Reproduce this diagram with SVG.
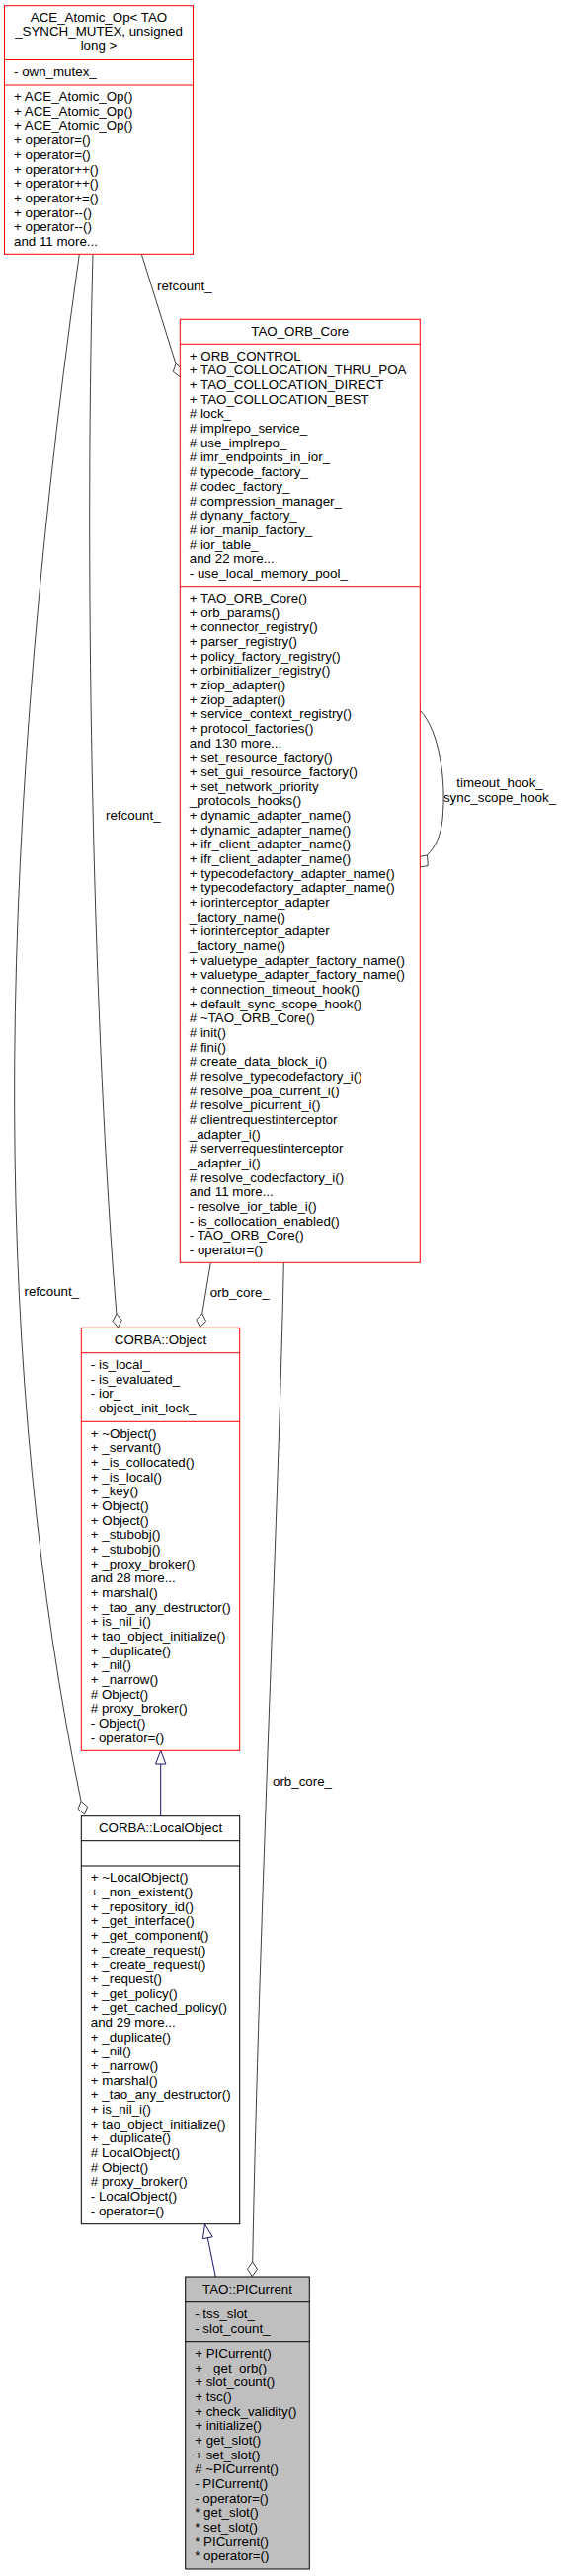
<svg xmlns="http://www.w3.org/2000/svg" width="568" height="2608" viewBox="0 0 568 2608">
<style>
text{font-family:"Liberation Sans",Arial,sans-serif;font-size:13.33px;fill:#000}
.c{text-anchor:middle}
.red{fill:#fff;stroke:#ff0000;stroke-width:1}
.blk{fill:#fff;stroke:#000;stroke-width:1}
.gray{fill:#bfbfbf;stroke:#000;stroke-width:1}
.sr{stroke:#ff0000;stroke-width:1}
.sb{stroke:#000;stroke-width:1}
.e{fill:none;stroke:#404040;stroke-width:1}
.d{fill:#fff;stroke:#404040;stroke-width:1}
.inh{fill:none;stroke:#191970;stroke-width:1}
.tri{fill:#fff;stroke:#191970;stroke-width:1}
</style>
<rect width="568" height="2608" fill="#fff"/>
<g id="connectors">
  <path class="e" d="M143.3,257.3 L178,368.3"/>
  <polygon class="d" points="182.2,381.7 184.9,373.6 178,368.3 175.3,376.4"/>
  <text x="159" y="293.5">refcount_</text>
  <path class="e" d="M94,257.3 C85,600 95,1050 117.9,1330"/>
  <polygon class="d" points="119.5,1344 123.2,1336.5 117.9,1330 114.2,1337.5"/>
  <text x="107" y="830">refcount_</text>
  <path class="e" d="M80.3,257.3 C-10,900 -5,1400 82,1823.5"/>
  <polygon class="d" points="85.5,1837 88.6,1829 82,1823.5 79,1831.5"/>
  <text x="24.5" y="1311.7">refcount_</text>
  <path class="e" d="M213.3,1278.3 L204.8,1329.8"/>
  <polygon class="d" points="202.6,1343.6 208.6,1337.5 204.8,1329.8 198.8,1335.9"/>
  <text x="212.7" y="1313">orb_core_</text>
  <path class="e" d="M287.3,1278.3 C283,1500 262,1950 255.7,2290"/>
  <polygon class="d" points="255.3,2304.5 260.5,2297.4 255.7,2290 250.5,2297.2"/>
  <text x="276" y="1808">orb_core_</text>
  <path class="e" d="M425.3,719.3 C445,740 452,790 448,830 C446,848 440,858 432.5,865.9"/>
  <polygon class="d" points="425.5,878 433.3,876.5 432.5,865.9 424.7,867.4"/>
  <text class="c" x="506" y="797.3">timeout_hook_</text>
  <text class="c" x="506" y="812.3">sync_scope_hook_</text>
  <path class="inh" d="M162.7,1838.7 L162.7,1786"/>
  <polygon class="tri" points="162.7,1772.3 167.9,1786 157.5,1786"/>
  <path class="inh" d="M218.3,2305 L210.3,2265.7"/>
  <polygon class="tri" points="207.5,2252 215.2,2264.7 205.4,2266.7"/>
</g>
<g id="ace_atomic_op">
  <rect class="red" x="4.5" y="5.7" width="191" height="251.6"/>
  <line class="sr" x1="4.5" y1="60.5" x2="195.5" y2="60.5"/>
  <line class="sr" x1="4.5" y1="86" x2="195.5" y2="86"/>
  <text class="c" x="100" y="21.7">ACE_Atomic_Op&lt; TAO</text>
  <text class="c" x="100" y="36.4">_SYNCH_MUTEX, unsigned</text>
  <text class="c" x="100" y="51">long &gt;</text>
  <text x="14" y="76.8">- own_mutex_</text>
  <text y="102.3"><tspan x="14">+ ACE_Atomic_Op()</tspan><tspan x="14" dy="14.67">+ ACE_Atomic_Op()</tspan><tspan x="14" dy="14.67">+ ACE_Atomic_Op()</tspan><tspan x="14" dy="14.67">+ operator=()</tspan><tspan x="14" dy="14.67">+ operator=()</tspan><tspan x="14" dy="14.67">+ operator++()</tspan><tspan x="14" dy="14.67">+ operator++()</tspan><tspan x="14" dy="14.67">+ operator+=()</tspan><tspan x="14" dy="14.67">+ operator--()</tspan><tspan x="14" dy="14.67">+ operator--()</tspan><tspan x="14" dy="14.67">and 11 more...</tspan></text>
</g>
<g id="tao_orb_core">
  <rect class="red" x="182.3" y="323.3" width="243" height="955"/>
  <line class="sr" x1="182.3" y1="348.3" x2="425.3" y2="348.3"/>
  <line class="sr" x1="182.3" y1="593.7" x2="425.3" y2="593.7"/>
  <text class="c" x="303.8" y="339.5">TAO_ORB_Core</text>
  <text y="364.8"><tspan x="191.8">+ ORB_CONTROL</tspan><tspan x="191.8" dy="14.67">+ TAO_COLLOCATION_THRU_POA</tspan><tspan x="191.8" dy="14.67">+ TAO_COLLOCATION_DIRECT</tspan><tspan x="191.8" dy="14.67">+ TAO_COLLOCATION_BEST</tspan><tspan x="191.8" dy="14.67"># lock_</tspan><tspan x="191.8" dy="14.67"># implrepo_service_</tspan><tspan x="191.8" dy="14.67"># use_implrepo_</tspan><tspan x="191.8" dy="14.67"># imr_endpoints_in_ior_</tspan><tspan x="191.8" dy="14.67"># typecode_factory_</tspan><tspan x="191.8" dy="14.67"># codec_factory_</tspan><tspan x="191.8" dy="14.67"># compression_manager_</tspan><tspan x="191.8" dy="14.67"># dynany_factory_</tspan><tspan x="191.8" dy="14.67"># ior_manip_factory_</tspan><tspan x="191.8" dy="14.67"># ior_table_</tspan><tspan x="191.8" dy="14.67">and 22 more...</tspan><tspan x="191.8" dy="14.67">- use_local_memory_pool_</tspan></text>
  <text y="610"><tspan x="191.8">+ TAO_ORB_Core()</tspan><tspan x="191.8" dy="14.67">+ orb_params()</tspan><tspan x="191.8" dy="14.67">+ connector_registry()</tspan><tspan x="191.8" dy="14.67">+ parser_registry()</tspan><tspan x="191.8" dy="14.67">+ policy_factory_registry()</tspan><tspan x="191.8" dy="14.67">+ orbinitializer_registry()</tspan><tspan x="191.8" dy="14.67">+ ziop_adapter()</tspan><tspan x="191.8" dy="14.67">+ ziop_adapter()</tspan><tspan x="191.8" dy="14.67">+ service_context_registry()</tspan><tspan x="191.8" dy="14.67">+ protocol_factories()</tspan><tspan x="191.8" dy="14.67">and 130 more...</tspan><tspan x="191.8" dy="14.67">+ set_resource_factory()</tspan><tspan x="191.8" dy="14.67">+ set_gui_resource_factory()</tspan><tspan x="191.8" dy="14.67">+ set_network_priority</tspan><tspan x="191.8" dy="14.67">_protocols_hooks()</tspan><tspan x="191.8" dy="14.67">+ dynamic_adapter_name()</tspan><tspan x="191.8" dy="14.67">+ dynamic_adapter_name()</tspan><tspan x="191.8" dy="14.67">+ ifr_client_adapter_name()</tspan><tspan x="191.8" dy="14.67">+ ifr_client_adapter_name()</tspan><tspan x="191.8" dy="14.67">+ typecodefactory_adapter_name()</tspan><tspan x="191.8" dy="14.67">+ typecodefactory_adapter_name()</tspan><tspan x="191.8" dy="14.67">+ iorinterceptor_adapter</tspan><tspan x="191.8" dy="14.67">_factory_name()</tspan><tspan x="191.8" dy="14.67">+ iorinterceptor_adapter</tspan><tspan x="191.8" dy="14.67">_factory_name()</tspan><tspan x="191.8" dy="14.67">+ valuetype_adapter_factory_name()</tspan><tspan x="191.8" dy="14.67">+ valuetype_adapter_factory_name()</tspan><tspan x="191.8" dy="14.67">+ connection_timeout_hook()</tspan><tspan x="191.8" dy="14.67">+ default_sync_scope_hook()</tspan><tspan x="191.8" dy="14.67"># ~TAO_ORB_Core()</tspan><tspan x="191.8" dy="14.67"># init()</tspan><tspan x="191.8" dy="14.67"># fini()</tspan><tspan x="191.8" dy="14.67"># create_data_block_i()</tspan><tspan x="191.8" dy="14.67"># resolve_typecodefactory_i()</tspan><tspan x="191.8" dy="14.67"># resolve_poa_current_i()</tspan><tspan x="191.8" dy="14.67"># resolve_picurrent_i()</tspan><tspan x="191.8" dy="14.67"># clientrequestinterceptor</tspan><tspan x="191.8" dy="14.67">_adapter_i()</tspan><tspan x="191.8" dy="14.67"># serverrequestinterceptor</tspan><tspan x="191.8" dy="14.67">_adapter_i()</tspan><tspan x="191.8" dy="14.67"># resolve_codecfactory_i()</tspan><tspan x="191.8" dy="14.67">and 11 more...</tspan><tspan x="191.8" dy="14.67">- resolve_ior_table_i()</tspan><tspan x="191.8" dy="14.67">- is_collocation_enabled()</tspan><tspan x="191.8" dy="14.67">- TAO_ORB_Core()</tspan><tspan x="191.8" dy="14.67">- operator=()</tspan></text>
</g>
<g id="corba_object">
  <rect class="red" x="82.3" y="1344.3" width="160.4" height="428"/>
  <line class="sr" x1="82.3" y1="1369.7" x2="242.7" y2="1369.7"/>
  <line class="sr" x1="82.3" y1="1439.3" x2="242.7" y2="1439.3"/>
  <text class="c" x="162.5" y="1361">CORBA::Object</text>
  <text y="1386"><tspan x="91.8">- is_local_</tspan><tspan x="91.8" dy="14.67">- is_evaluated_</tspan><tspan x="91.8" dy="14.67">- ior_</tspan><tspan x="91.8" dy="14.67">- object_init_lock_</tspan></text>
  <text y="1455.6"><tspan x="91.8">+ ~Object()</tspan><tspan x="91.8" dy="14.67">+ _servant()</tspan><tspan x="91.8" dy="14.67">+ _is_collocated()</tspan><tspan x="91.8" dy="14.67">+ _is_local()</tspan><tspan x="91.8" dy="14.67">+ _key()</tspan><tspan x="91.8" dy="14.67">+ Object()</tspan><tspan x="91.8" dy="14.67">+ Object()</tspan><tspan x="91.8" dy="14.67">+ _stubobj()</tspan><tspan x="91.8" dy="14.67">+ _stubobj()</tspan><tspan x="91.8" dy="14.67">+ _proxy_broker()</tspan><tspan x="91.8" dy="14.67">and 28 more...</tspan><tspan x="91.8" dy="14.67">+ marshal()</tspan><tspan x="91.8" dy="14.67">+ _tao_any_destructor()</tspan><tspan x="91.8" dy="14.67">+ is_nil_i()</tspan><tspan x="91.8" dy="14.67">+ tao_object_initialize()</tspan><tspan x="91.8" dy="14.67">+ _duplicate()</tspan><tspan x="91.8" dy="14.67">+ _nil()</tspan><tspan x="91.8" dy="14.67">+ _narrow()</tspan><tspan x="91.8" dy="14.67"># Object()</tspan><tspan x="91.8" dy="14.67"># proxy_broker()</tspan><tspan x="91.8" dy="14.67">- Object()</tspan><tspan x="91.8" dy="14.67">- operator=()</tspan></text>
</g>
<g id="corba_localobject">
  <rect class="blk" x="82.3" y="1838.7" width="160.4" height="413"/>
  <line class="sb" x1="82.3" y1="1863.7" x2="242.7" y2="1863.7"/>
  <line class="sb" x1="82.3" y1="1889" x2="242.7" y2="1889"/>
  <text class="c" x="162.5" y="1855">CORBA::LocalObject</text>
  <text y="1905.3"><tspan x="91.8">+ ~LocalObject()</tspan><tspan x="91.8" dy="14.67">+ _non_existent()</tspan><tspan x="91.8" dy="14.67">+ _repository_id()</tspan><tspan x="91.8" dy="14.67">+ _get_interface()</tspan><tspan x="91.8" dy="14.67">+ _get_component()</tspan><tspan x="91.8" dy="14.67">+ _create_request()</tspan><tspan x="91.8" dy="14.67">+ _create_request()</tspan><tspan x="91.8" dy="14.67">+ _request()</tspan><tspan x="91.8" dy="14.67">+ _get_policy()</tspan><tspan x="91.8" dy="14.67">+ _get_cached_policy()</tspan><tspan x="91.8" dy="14.67">and 29 more...</tspan><tspan x="91.8" dy="14.67">+ _duplicate()</tspan><tspan x="91.8" dy="14.67">+ _nil()</tspan><tspan x="91.8" dy="14.67">+ _narrow()</tspan><tspan x="91.8" dy="14.67">+ marshal()</tspan><tspan x="91.8" dy="14.67">+ _tao_any_destructor()</tspan><tspan x="91.8" dy="14.67">+ is_nil_i()</tspan><tspan x="91.8" dy="14.67">+ tao_object_initialize()</tspan><tspan x="91.8" dy="14.67">+ _duplicate()</tspan><tspan x="91.8" dy="14.67"># LocalObject()</tspan><tspan x="91.8" dy="14.67"># Object()</tspan><tspan x="91.8" dy="14.67"># proxy_broker()</tspan><tspan x="91.8" dy="14.67">- LocalObject()</tspan><tspan x="91.8" dy="14.67">- operator=()</tspan></text>
</g>
<g id="tao_picurrent">
  <rect class="gray" x="187.7" y="2305" width="125.6" height="296"/>
  <line class="sb" x1="187.7" y1="2330.7" x2="313.3" y2="2330.7"/>
  <line class="sb" x1="187.7" y1="2370.7" x2="313.3" y2="2370.7"/>
  <text class="c" x="250.5" y="2321.5">TAO::PICurrent</text>
  <text y="2347"><tspan x="197.2">- tss_slot_</tspan><tspan x="197.2" dy="14.67">- slot_count_</tspan></text>
  <text y="2387"><tspan x="197.2">+ PICurrent()</tspan><tspan x="197.2" dy="14.67">+ _get_orb()</tspan><tspan x="197.2" dy="14.67">+ slot_count()</tspan><tspan x="197.2" dy="14.67">+ tsc()</tspan><tspan x="197.2" dy="14.67">+ check_validity()</tspan><tspan x="197.2" dy="14.67">+ initialize()</tspan><tspan x="197.2" dy="14.67">+ get_slot()</tspan><tspan x="197.2" dy="14.67">+ set_slot()</tspan><tspan x="197.2" dy="14.67"># ~PICurrent()</tspan><tspan x="197.2" dy="14.67">- PICurrent()</tspan><tspan x="197.2" dy="14.67">- operator=()</tspan><tspan x="197.2" dy="14.67">* get_slot()</tspan><tspan x="197.2" dy="14.67">* set_slot()</tspan><tspan x="197.2" dy="14.67">* PICurrent()</tspan><tspan x="197.2" dy="14.67">* operator=()</tspan></text>
</g>
</svg>
